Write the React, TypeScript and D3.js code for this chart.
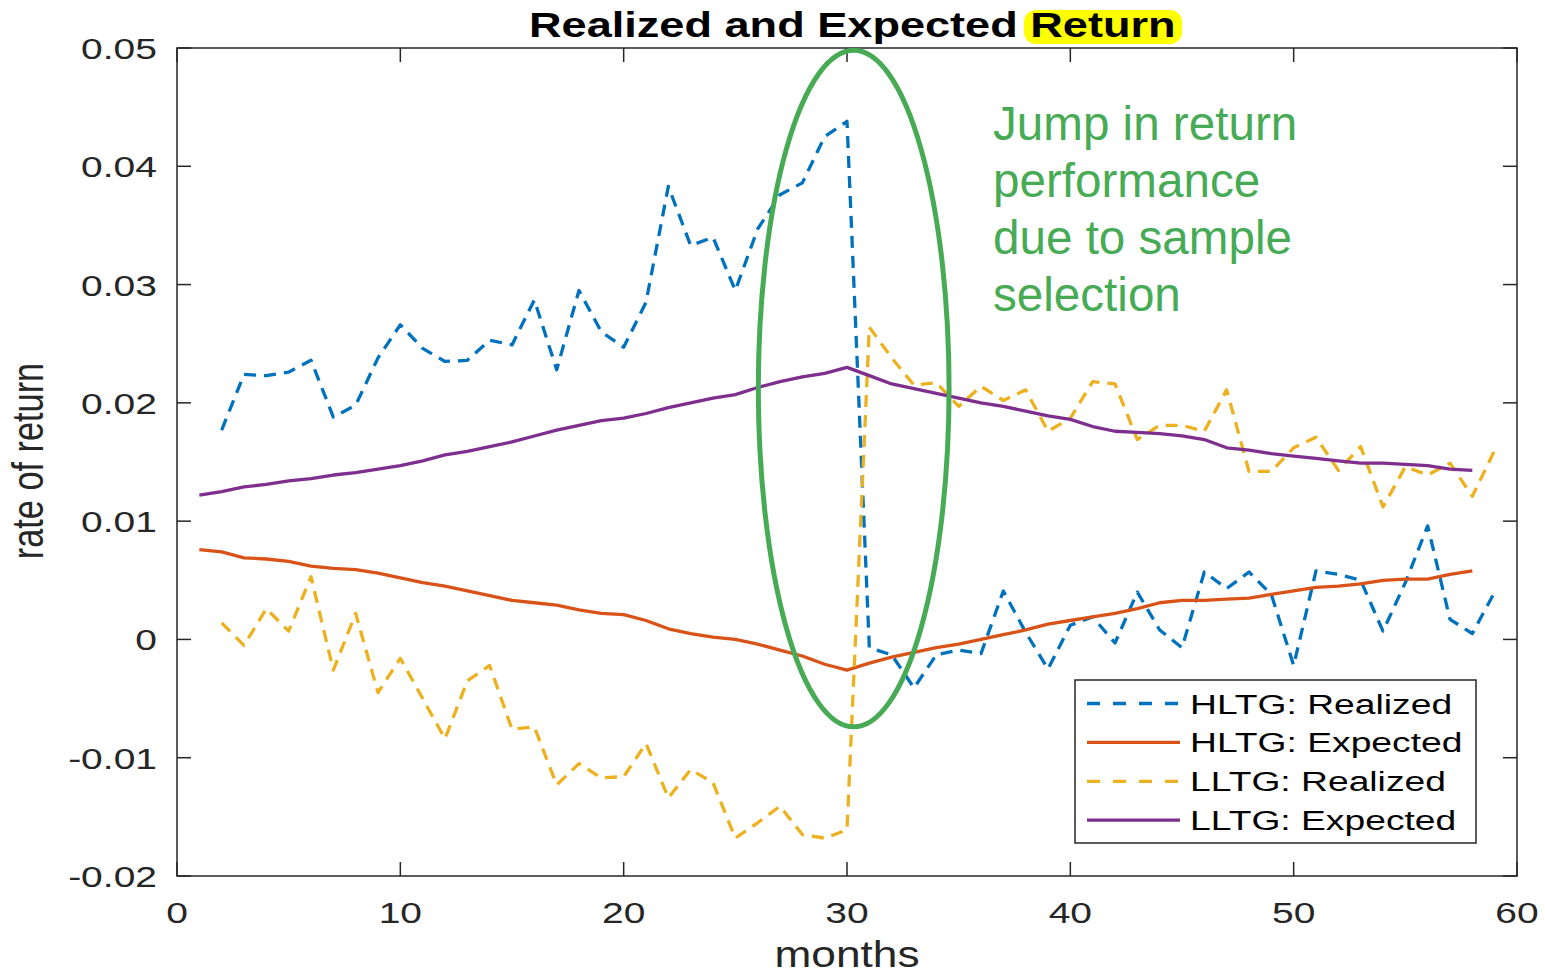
import React from 'react';
import * as d3 from 'd3';

// Monthly returns, high vs. low long-term-growth portfolios
const hltgRealized = [
  0.0177, 0.0224, 0.0223, 0.0226, 0.0236, 0.0188, 0.0198, 0.0238, 0.0266, 0.0246,
  0.0235, 0.0236, 0.0253, 0.0249, 0.0287, 0.0228, 0.0295, 0.0260, 0.0247, 0.0285,
  0.0383, 0.0333, 0.0340, 0.0295, 0.0347, 0.0376, 0.0386, 0.0425, 0.0438, -0.0007,
  -0.0013, -0.0041, -0.0013, -0.0009, -0.0012, 0.0041, 0.0006, -0.0025, 0.0012, 0.0019,
  -0.0003, 0.0040, 0.0008, -0.0007, 0.0057, 0.0043, 0.0057, 0.0038, -0.0022, 0.0058,
  0.0055, 0.0050, 0.0007, 0.0048, 0.0096, 0.0017, 0.0005, 0.0040,
];
const hltgExpected = [
  0.0076, 0.0074, 0.0069, 0.0068, 0.0066, 0.0062, 0.0060, 0.0059, 0.0056, 0.0052,
  0.0048, 0.0045, 0.0041, 0.0037, 0.0033, 0.0031, 0.0029, 0.0025, 0.0022, 0.0021,
  0.0016, 0.0009, 0.0005, 0.0002, 0.0000, -0.0004, -0.0009, -0.0014, -0.0021, -0.0026,
  -0.0020, -0.0015, -0.0011, -0.0007, -0.0004, 0.0000, 0.0004, 0.0008, 0.0013, 0.0016,
  0.0019, 0.0022, 0.0026, 0.0031, 0.0033, 0.0033, 0.0034, 0.0035, 0.0038, 0.0041,
  0.0044, 0.0045, 0.0047, 0.0050, 0.0051, 0.0051, 0.0055, 0.0058,
];
const lltgRealized = [
  0.0014, -0.0005, 0.0026, 0.0007, 0.0053, -0.0026, 0.0022, -0.0045, -0.0016, -0.0050,
  -0.0084, -0.0035, -0.0022, -0.0076, -0.0074, -0.0123, -0.0105, -0.0117, -0.0116, -0.0088,
  -0.0134, -0.0110, -0.0121, -0.0168, -0.0155, -0.0141, -0.0165, -0.0168, -0.0161, 0.0264,
  0.0238, 0.0215, 0.0217, 0.0197, 0.0214, 0.0202, 0.0211, 0.0176, 0.0187, 0.0218,
  0.0216, 0.0169, 0.0181, 0.0181, 0.0176, 0.0211, 0.0142, 0.0142, 0.0162, 0.0171,
  0.0143, 0.0163, 0.0112, 0.0146, 0.0139, 0.0149, 0.0121, 0.0160,
];
const lltgExpected = [
  0.0122, 0.0125, 0.0129, 0.0131, 0.0134, 0.0136, 0.0139, 0.0141, 0.0144, 0.0147,
  0.0151, 0.0156, 0.0159, 0.0163, 0.0167, 0.0172, 0.0177, 0.0181, 0.0185, 0.0187,
  0.0191, 0.0196, 0.0200, 0.0204, 0.0207, 0.0213, 0.0218, 0.0222, 0.0225, 0.0230,
  0.0223, 0.0216, 0.0212, 0.0208, 0.0204, 0.0200, 0.0197, 0.0193, 0.0189, 0.0186,
  0.0180, 0.0176, 0.0175, 0.0174, 0.0172, 0.0169, 0.0162, 0.0160, 0.0157, 0.0155,
  0.0153, 0.0151, 0.0149, 0.0149, 0.0148, 0.0147, 0.0144, 0.0143,
];

// First month of each series
const realizedStart = 2;
const expectedStart = 1;

const xTicks = [0, 10, 20, 30, 40, 50, 60];
const yTicks = [-0.02, -0.01, 0, 0.01, 0.02, 0.03, 0.04, 0.05];
const yTickLabels = ['-0.02', '-0.01', '0', '0.01', '0.02', '0.03', '0.04', '0.05'];

const seriesNames = ['HLTG: Realized', 'HLTG: Expected', 'LLTG: Realized', 'LLTG: Expected'];
const seriesColors = ['#0072BD', '#D95319', '#EDB120', '#7E2F8E'];
const seriesDashed = [true, false, true, false];

const noteLines = ['Jump in return', 'performance', 'due to sample', 'selection'];
// Highlighted window around the month-30 jump (centre month, centre value, half-widths)
const noteEllipse = { month: 30.3, value: 0.02121, halfMonths: 4.27, halfValue: 0.0286 };

const FONT = '"Liberation Sans", Arial, Helvetica, sans-serif';
const INK = '#262626';
const GREEN = '#47AB55';
const SX = 1.3;

export default function App() {
  const W = 1545;
  const H = 974;
  const left = 177, right = 1517, top = 48, bottom = 876;

  const x = d3.scaleLinear().domain([0, 60]).range([left, right]);
  const y = d3.scaleLinear().domain([-0.02, 0.05]).range([bottom, top]);
  const lineGen = d3
    .line<[number, number]>()
    .x((d) => x(d[0]))
    .y((d) => y(d[1]));

  const mkPath = (vals: number[], start: number) =>
    lineGen(vals.map((v, i) => [start + i, v] as [number, number])) as string;

  const series = [
    { vals: hltgRealized, start: realizedStart },
    { vals: hltgExpected, start: expectedStart },
    { vals: lltgRealized, start: realizedStart },
    { vals: lltgExpected, start: expectedStart },
  ];

  const tickLen = 14;
  const legendX = 1075, legendY = 680, legendW = 401, legendH = 163;
  const legendRow = 38.9;

  return (
    <svg
      width={W}
      height={H}
      style={{ position: 'absolute', left: 0, top: 0, background: '#fff' }}
      fontFamily={FONT}
    >
      <defs>
        <clipPath id="plotClip">
          <rect x={left} y={top} width={right - left} height={bottom - top} />
        </clipPath>
      </defs>
      <rect x={0} y={0} width={W} height={H} fill="#fff" />

      {/* title with highlighted last word */}
      <rect x={1024} y={10} width={158} height={34} rx={12} ry={12} fill="#FFFF00" />
      <text
        transform={`translate(529,37) scale(${SX},1)`}
        fontSize={34.7}
        fontWeight="bold"
        fill="#000"
      >
        Realized and Expected Return
      </text>

      {/* data lines */}
      <g clipPath="url(#plotClip)">
        {series.map((s, i) => (
          <path
            key={i}
            d={mkPath(s.vals, s.start)}
            fill="none"
            stroke={seriesColors[i]}
            strokeWidth={3.3}
            strokeDasharray={seriesDashed[i] ? '12 8' : undefined}
            strokeLinejoin="round"
          />
        ))}
      </g>

      {/* axes box */}
      <rect
        x={left}
        y={top}
        width={right - left}
        height={bottom - top}
        fill="none"
        stroke={INK}
        strokeWidth={1.5}
      />
      {xTicks.map((t) => (
        <g key={'xt' + t}>
          <line x1={x(t)} x2={x(t)} y1={bottom} y2={bottom - tickLen} stroke={INK} strokeWidth={1.5} />
          <line x1={x(t)} x2={x(t)} y1={top} y2={top + tickLen} stroke={INK} strokeWidth={1.5} />
          <text
            transform={`translate(${x(t)},923) scale(${SX},1)`}
            textAnchor="middle"
            fontSize={30}
            fill={INK}
          >
            {t}
          </text>
        </g>
      ))}
      {yTicks.map((t, i) => (
        <g key={'yt' + t}>
          <line x1={left} x2={left + tickLen} y1={y(t)} y2={y(t)} stroke={INK} strokeWidth={1.5} />
          <line x1={right} x2={right - tickLen} y1={y(t)} y2={y(t)} stroke={INK} strokeWidth={1.5} />
          <text
            transform={`translate(157,${y(t) + 11}) scale(${SX},1)`}
            textAnchor="end"
            fontSize={30}
            fill={INK}
          >
            {yTickLabels[i]}
          </text>
        </g>
      ))}

      {/* axis labels */}
      <text
        x={847}
        y={967}
        textAnchor="middle"
        fontSize={36}
        fill={INK}
        textLength={145}
        lengthAdjust="spacingAndGlyphs"
      >
        months
      </text>
      <text
        transform={`translate(43,461) scale(${SX},1) rotate(-90)`}
        textAnchor="middle"
        fontSize={34.3}
        fill={INK}
      >
        rate of return
      </text>

      {/* annotation */}
      <ellipse
        cx={x(noteEllipse.month)}
        cy={y(noteEllipse.value)}
        rx={x(noteEllipse.month + noteEllipse.halfMonths) - x(noteEllipse.month)}
        ry={y(noteEllipse.value - noteEllipse.halfValue) - y(noteEllipse.value)}
        fill="none"
        stroke={GREEN}
        strokeWidth={5}
      />
      {noteLines.map((s, i) => (
        <text key={s} x={993} y={140 + i * 57} fontSize={47.6} fill={GREEN}>
          {s}
        </text>
      ))}

      {/* legend */}
      <rect
        x={legendX}
        y={legendY}
        width={legendW}
        height={legendH}
        fill="#fff"
        stroke={INK}
        strokeWidth={1.5}
      />
      {seriesNames.map((name, i) => {
        const ly = legendY + 23.5 + i * legendRow;
        return (
          <g key={name}>
            <line
              x1={1087}
              x2={1180}
              y1={ly}
              y2={ly}
              stroke={seriesColors[i]}
              strokeWidth={3.3}
              strokeDasharray={seriesDashed[i] ? '13 13' : undefined}
            />
            <text
              transform={`translate(1190,${ly + 10}) scale(1.33,1)`}
              fontSize={28}
              fill="#000"
            >
              {name}
            </text>
          </g>
        );
      })}
    </svg>
  );
}
